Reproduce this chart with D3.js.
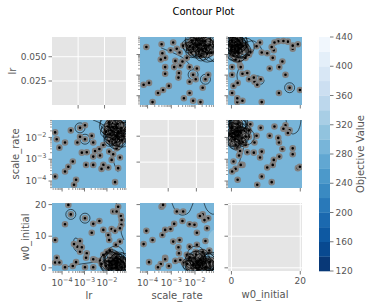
<!DOCTYPE html>
<html>
<head>
<meta charset="utf-8">
<script src="https://cdn.jsdelivr.net/npm/d3@7"></script>
<style>
  body { margin: 0; background: #fff; }
  svg { display: block; font-family: "DejaVu Sans", sans-serif; }
</style>
</head>
<body>
<script>
// Parameter names (row / column order of the matrix)
var paramNames = ["lr", "scale_rate", "w0_initial"];

// Trials spread over the search space
var spreadLr = [4.9e-5, 2.45e-4, 6.3e-4, 1.05e-3, 5.75e-5, 1.35e-4, 6.3e-4, 1.05e-3, 2.1e-3, 4.8e-4,
  2.45e-3, 7.6e-5, 1.26e-3, 2.95e-3, 4.6e-3, 6.9e-3, 4.9e-3, 2.45e-3, 3.0e-4, 1.17e-3,
  2.45e-3, 6.9e-3, 5.75e-3, 1.15e-2, 1.62e-2, 1.9e-2, 3.8e-2, 3.16e-2, 1.35e-4, 4.9e-5,
  4.2e-4, 3.4e-4, 2.3e-2, 1.26e-2, 2.7e-2, 4.2e-2, 4.5e-2, 4.4e-2, 3.8e-2, 2.5e-2,
  9.8e-3, 1.35e-2, 1.9e-4, 7.6e-4];
var spreadScaleRate = [1.7e-2, 2.1e-2, 2.75e-2, 3.6e-2, 8.3e-3, 5.9e-3, 1.07e-2, 8.3e-3, 1.2e-2, 5.9e-3,
  5.9e-3, 3.4e-3, 2.1e-3, 2.4e-3, 2.95e-3, 4.5e-3, 1.48e-3, 1.32e-3, 7.9e-4, 5.5e-4,
  5.5e-4, 5.5e-4, 3.6e-4, 4.2e-4, 9.3e-4, 1.7e-3, 1.2e-3, 3.9e-4, 2.75e-4, 1.62e-4,
  1.15e-4, 6.8e-5, 8.9e-5, 2.24e-3, 3.16e-3, 1.6e-2, 2.5e-2, 9.5e-3, 3.2e-2, 1.2e-2,
  2.1e-2, 4.0e-2, 4.5e-4, 2.0e-3];
var spreadW0 = [1.7, 16.9, 8.5, 15.7, 3.2, 13.8, 5.1, 0.2, 11.1, 6.7,
  0.2, 1.7, 4.6, 2.5, 14.8, 4.1, 2.2, 13.9, 0.6, 3.2,
  2.7, 12.0, 1.2, 10.4, 12.3, 17.8, 8.3, 19.3, 0.2, 8.8,
  1.8, 7.5, 11.7, 8.8, 17.8, 16.4, 15.1, 13.6, 12.5, 7.3,
  5.1, 5.5, 19.9, 6.5];

// Trials packed in the dense region (high lr, high scale_rate, low w0)
var clusterLr = [1.2e-2, 2.5e-2, 3.1e-2, 1.8e-2, 4.0e-2, 2.2e-2, 1.5e-2, 3.6e-2, 2.8e-2, 1.0e-2,
  4.5e-2, 2.0e-2, 3.3e-2, 1.3e-2, 2.6e-2, 5.0e-2, 1.7e-2, 3.9e-2, 2.3e-2, 1.1e-2,
  4.2e-2, 2.9e-2, 1.6e-2, 3.5e-2, 2.1e-2, 5.4e-2, 1.4e-2, 2.7e-2, 3.8e-2, 9.0e-3,
  4.8e-2, 2.4e-2, 1.9e-2, 3.2e-2, 6.0e-2, 1.2e-2, 2.6e-2, 4.4e-2, 1.8e-2, 3.0e-2];
var clusterScaleRate = [1.5e-2, 2.2e-2, 8.0e-3, 3.0e-2, 1.2e-2, 5.5e-3, 1.0e-2, 2.8e-2, 1.8e-2, 2.4e-2,
  4.0e-2, 1.3e-2, 1.0e-2, 7.0e-3, 3.5e-2, 2.0e-2, 4.5e-2, 6.5e-3, 1.6e-2, 3.3e-2,
  1.5e-2, 4.8e-3, 2.0e-2, 5.0e-2, 9.0e-3, 1.1e-2, 1.4e-2, 2.6e-2, 3.8e-2, 1.8e-2,
  7.5e-3, 1.1e-2, 2.9e-2, 1.7e-2, 2.3e-2, 4.9e-2, 6.0e-3, 2.7e-2, 8.5e-3, 4.2e-2];
var clusterW0 = [0.8, 1.5, 0.4, 2.2, 1.1, 0.6, 3.0, 0.9, 1.9, 0.3,
  1.3, 2.7, 0.2, 1.6, 0.7, 2.0, 1.0, 2.5, 0.1, 1.8,
  0.5, 1.2, 3.6, 2.3, 0.9, 1.7, 2.9, 0.3, 1.4, 0.6,
  0.8, 4.2, 1.1, 2.6, 0.4, 2.1, 3.3, 0.2, 1.0, 1.8];

// Spread trials circled by a contour line, per panel "row,col"
var ringedTrials = { "1,0": [2, 7], "2,0": [1, 3], "0,1": [7, 2], "0,2": [1] };

// Contour lines, in data units [x, y]
var contourLines = [
  { row: 0, col: 1, pts: [[3.7e-4, 2.1e-2], [1.15e-3, 1.23e-2], [3.0e-3, 7.1e-3], [5.75e-3, 3.4e-3], [9.3e-3, 1.9e-3]] },
  { row: 0, col: 1, pts: [[5.75e-3, 1.78e-2], [2.45e-2, 1.02e-2], [5.6e-2, 4.9e-3], [6.3e-2, 4.4e-3]] },
  { row: 1, col: 0, pts: [[2.4e-3, 6.3e-2], [4.9e-3, 4.6e-2], [9.1e-3, 3.0e-2], [1.38e-2, 1.78e-2]] },
  { row: 1, col: 0, pts: [[1.12e-2, 2.63e-3], [1.7e-2, 1.15e-3], [2.3e-2, 4.9e-4], [3.16e-2, 2.57e-4]] },
  { row: 0, col: 2, pts: [[0.74, 1.32e-2], [2.2, 5.4e-3], [2.2, 2.45e-3], [1.61, 1.02e-3], [1.9, 4.7e-4]] },
  { row: 0, col: 2, pts: [[3.94, 3.6e-2], [6.26, 4.6e-2], [8.0, 2.9e-2], [8.88, 1.66e-2]] },
  { row: 0, col: 2, closed: true, pts: [[5.97, 7.2e-4], [7.72, 9.1e-4], [9.47, 5.75e-4], [8.88, 3.7e-4], [7.14, 4.2e-4]] },
  { row: 2, col: 0, closed: true, pts: [[3.8e-4, 9.4], [5.75e-4, 8.8], [8.5e-4, 6.9], [6.9e-4, 5.0], [4.2e-4, 5.3], [3.1e-4, 7.2]] },
  { row: 2, col: 0, pts: [[2.57e-2, 20.5], [3.47e-2, 17.65], [4.8e-2, 14.5], [4.3e-2, 11.3], [5.75e-2, 8.8]] },
  { row: 2, col: 0, pts: [[1.0e-4, -0.05], [3.8e-4, 0.9], [1.45e-3, 1.53], [4.9e-3, 1.85], [1.12e-2, 1.2]] },
  { row: 2, col: 1, pts: [[1.07e-3, 20.5], [1.45e-3, 18.3], [2.57e-3, 16.7], [5.1e-3, 17.3], [7.4e-3, 19.5], [8.3e-3, 20.5]] },
  { row: 2, col: 1, pts: [[2.4e-2, 20.5], [3.2e-2, 18.3], [5.25e-2, 17.0], [6.3e-2, 17.0]] },
  { row: 1, col: 2, pts: [[1.9, 6.3e-2], [2.49, 2.2e-2], [3.65, 7.6e-3], [3.36, 2.63e-3], [2.49, 9.1e-4], [1.33, 2.57e-4]] },
  { row: 1, col: 2, pts: [[15.86, 6.3e-2], [16.44, 2.7e-2], [17.6, 1.45e-2], [19.06, 1.78e-2], [19.9, 3.3e-2], [20.2, 6.3e-2]] }
];

// Lighter filled contour regions (next level up), in data units
var lightRegions = [
  { row: 0, col: 1, pts: [[1.35e-2, 7.1e-2], [6.3e-2, 7.1e-2], [6.3e-2, 5.4e-3], [3.55e-2, 1.32e-2], [1.62e-2, 3.2e-2]] },
  { row: 2, col: 1, pts: [[3.9e-2, 10.4], [6.3e-2, 11.96], [6.3e-2, -1], [4.3e-2, -1], [3.55e-2, 4.06]] }
];

var baseLevel = 290;   // objective value of the main filled band
var lightLevel = 310;

// Colorbar levels and tick labels
var levels = [120, 140, 160, 180, 200, 220, 240, 260, 280, 300, 320, 340, 360, 380, 400, 420, 440];
var colorbarTicks = [120, 160, 200, 240, 280, 320, 360, 400, 440];

// Axis ranges
var axisDomains = [[3.55e-5, 7.08e-2], [4.79e-5, 6.31e-2], [-1.0, 20.5]];
var diagDomains = [[0.0003, 0.0703], [0, 0.0525], [-1.0, 20.5]];
var diagXTicks = [[0.025, 0.05], [0.02, 0.04], [0, 20]];
var diagYTicks = [[0.025, 0.05], [0.02, 0.04], [0, 10, 20]];
var w0XTicks = [0, 20];
var w0YTicks = [0, 10, 20];

// Layout
var svgWidth = 374, svgHeight = 308;
var colX = [52, 140, 228], rowY = [37, 120, 203];
var cellW = 74, cellH = 68;
var tickColor = "#555555";
var loopRadii = [4, 5.5, 7, 8.5];

var svg = d3.select("body").append("svg")
  .attr("width", svgWidth)
  .attr("height", svgHeight);

// matplotlib-like Blues colormap, reversed through bandColor
var bluesStops = ["#f7fbff", "#deebf7", "#c6dbef", "#9ecae1", "#6baed6", "#4292c6", "#2171b5", "#08519c", "#08306b"];
var blues = d3.scaleLinear()
  .domain(bluesStops.map(function (d, i) { return i / (bluesStops.length - 1); }))
  .range(bluesStops);
function bandColor(v) {
  var lo = levels[0], hi = levels[levels.length - 1];
  return blues(1 - (v - lo) / (hi - lo));
}

var trialValues = [
  spreadLr.concat(clusterLr),
  spreadScaleRate.concat(clusterScaleRate),
  spreadW0.concat(clusterW0)
];
var nSpread = spreadLr.length;
var nTrials = trialValues[0].length;

function axisScale(p, range, diag) {
  if (diag) return d3.scaleLinear().domain(diagDomains[p]).range(range);
  if (p < 2) return d3.scaleLog().domain(axisDomains[p]).range(range);
  return d3.scaleLinear().domain(axisDomains[p]).range(range);
}

function isDecade(t) {
  var l = Math.log10(t);
  return Math.abs(l - Math.round(l)) < 1e-6;
}

function tickSet(scale, p, isX, diag) {
  if (diag) return { major: isX ? diagXTicks[p] : diagYTicks[p], minor: [], log: false, fixed: p < 2 };
  if (p < 2) {
    var all = scale.ticks();
    return { major: all.filter(isDecade), minor: all.filter(function (t) { return !isDecade(t); }), log: true };
  }
  return { major: isX ? w0XTicks : w0YTicks, minor: [], log: false };
}

function writeLabel(text, t, ts) {
  if (ts.log) {
    var e = Math.round(Math.log10(t));
    text.append("tspan").text("10");
    text.append("tspan").attr("dy", -4).attr("font-size", 6.5).text("\u2212" + Math.abs(e));
  } else if (ts.fixed) {
    text.text(d3.format(".3f")(t));
  } else {
    text.text(t);
  }
}

function drawXTicks(g, scale, ts, showLabels) {
  ts.minor.forEach(function (t) {
    g.append("line").attr("x1", scale(t)).attr("x2", scale(t))
      .attr("y1", cellH).attr("y2", cellH + 2)
      .attr("stroke", tickColor).attr("stroke-width", 0.6);
  });
  ts.major.forEach(function (t) {
    g.append("line").attr("x1", scale(t)).attr("x2", scale(t))
      .attr("y1", cellH).attr("y2", cellH + 3.5)
      .attr("stroke", tickColor).attr("stroke-width", 0.8);
    if (showLabels) {
      var text = g.append("text")
        .attr("x", scale(t)).attr("y", cellH + (ts.log ? 14.5 : 13))
        .attr("text-anchor", "middle").attr("font-size", 9).attr("fill", tickColor);
      writeLabel(text, t, ts);
    }
  });
}

function drawYTicks(g, scale, ts, showLabels) {
  ts.minor.forEach(function (t) {
    g.append("line").attr("y1", scale(t)).attr("y2", scale(t))
      .attr("x1", 0).attr("x2", -2)
      .attr("stroke", tickColor).attr("stroke-width", 0.6);
  });
  ts.major.forEach(function (t) {
    g.append("line").attr("y1", scale(t)).attr("y2", scale(t))
      .attr("x1", 0).attr("x2", -3.5)
      .attr("stroke", tickColor).attr("stroke-width", 0.8);
    if (showLabels) {
      var text = g.append("text")
        .attr("x", -5.5).attr("y", scale(t) + 3.2)
        .attr("text-anchor", "end").attr("font-size", 9).attr("fill", tickColor);
      writeLabel(text, t, ts);
    }
  });
}

var lineGen = d3.line().curve(d3.curveCatmullRom);
var loopGen = d3.line().curve(d3.curveCatmullRomClosed);

for (var r = 0; r < 3; r++) {
  for (var c = 0; c < 3; c++) {
    var diag = r === c;
    var g = svg.append("g").attr("transform", "translate(" + colX[c] + "," + rowY[r] + ")");
    var x = axisScale(c, [0, cellW], diag);
    var y = axisScale(r, [cellH, 0], diag);
    var xt = tickSet(x, c, true, diag);
    var yt = tickSet(y, r, false, diag);

    if (diag) {
      g.append("rect").attr("width", cellW).attr("height", cellH).attr("fill", "#e5e5e5");
      xt.major.forEach(function (t) {
        g.append("line").attr("x1", x(t)).attr("x2", x(t)).attr("y1", 0).attr("y2", cellH)
          .attr("stroke", "#fff").attr("stroke-width", 1);
      });
      yt.major.forEach(function (t) {
        g.append("line").attr("y1", y(t)).attr("y2", y(t)).attr("x1", 0).attr("x2", cellW)
          .attr("stroke", "#fff").attr("stroke-width", 1);
      });
    } else {
      var clipId = "clip" + r + c;
      g.append("clipPath").attr("id", clipId)
        .append("rect").attr("width", cellW).attr("height", cellH);
      var inner = g.append("g").attr("clip-path", "url(#" + clipId + ")");

      inner.append("rect").attr("width", cellW).attr("height", cellH).attr("fill", bandColor(baseLevel));

      lightRegions.filter(function (d) { return d.row === r && d.col === c; }).forEach(function (d) {
        inner.append("path")
          .attr("d", loopGen(d.pts.map(function (p) { return [x(p[0]), y(p[1])]; })))
          .attr("fill", bandColor(lightLevel));
      });

      contourLines.filter(function (d) { return d.row === r && d.col === c; }).forEach(function (d) {
        var gen = d.closed ? loopGen : lineGen;
        inner.append("path")
          .attr("d", gen(d.pts.map(function (p) { return [x(p[0]), y(p[1])]; })))
          .attr("fill", "none").attr("stroke", "#000").attr("stroke-width", 0.6);
      });

      (ringedTrials[r + "," + c] || []).forEach(function (i) {
        inner.append("circle")
          .attr("cx", x(trialValues[c][i])).attr("cy", y(trialValues[r][i]))
          .attr("r", 5).attr("fill", "none").attr("stroke", "#000").attr("stroke-width", 0.6);
      });

      for (var k = 0; k < nTrials; k++) {
        inner.append("circle")
          .attr("cx", x(trialValues[c][k])).attr("cy", y(trialValues[r][k]))
          .attr("r", 2.3).attr("fill", "#000")
          .attr("stroke", "#808080").attr("stroke-width", 2);
      }

      // tangled contour loops around the clustered trials
      for (var i = nSpread; i < nTrials; i++) {
        inner.append("circle")
          .attr("cx", x(trialValues[c][i])).attr("cy", y(trialValues[r][i]))
          .attr("r", loopRadii[i % loopRadii.length])
          .attr("fill", "none").attr("stroke", "#000").attr("stroke-width", 0.55);
      }
    }

    drawXTicks(g, x, xt, r === 2);
    drawYTicks(g, y, yt, c === 0);
  }
}

// Axis titles
var yLabelX = [15.5, 19, 29];
paramNames.forEach(function (name, i) {
  svg.append("text")
    .attr("x", colX[i] + cellW / 2).attr("y", i < 2 ? 299 : 297.5)
    .attr("text-anchor", "middle").attr("font-size", 10).attr("fill", tickColor)
    .text(name);
  svg.append("text")
    .attr("transform", "translate(" + yLabelX[i] + "," + (rowY[i] + cellH / 2) + ") rotate(-90)")
    .attr("text-anchor", "middle").attr("font-size", 10).attr("fill", tickColor)
    .text(name);
});

// Title
svg.append("text")
  .attr("x", 203.5).attr("y", 15)
  .attr("text-anchor", "middle").attr("font-size", 10).attr("fill", "#000")
  .text("Contour Plot");

// Colorbar
var cbX = 319, cbW = 11;
var cbScale = d3.scaleLinear()
  .domain([levels[0], levels[levels.length - 1]])
  .range([rowY[2] + cellH, rowY[0]]);
var cb = svg.append("g");
levels.slice(0, -1).forEach(function (lv, i) {
  var top = cbScale(levels[i + 1]), bottom = cbScale(lv);
  cb.append("rect")
    .attr("x", cbX).attr("y", top)
    .attr("width", cbW).attr("height", bottom - top + 0.3)
    .attr("fill", bandColor((lv + levels[i + 1]) / 2));
});
colorbarTicks.forEach(function (t) {
  cb.append("line")
    .attr("x1", cbX + cbW).attr("x2", cbX + cbW + 3.5)
    .attr("y1", cbScale(t)).attr("y2", cbScale(t))
    .attr("stroke", tickColor).attr("stroke-width", 0.8);
  cb.append("text")
    .attr("x", cbX + cbW + 5.5).attr("y", cbScale(t) + 3.2)
    .attr("font-size", 9).attr("fill", tickColor)
    .text(t);
});
svg.append("text")
  .attr("transform", "translate(364," + (rowY[1] + cellH / 2) + ") rotate(-90)")
  .attr("text-anchor", "middle").attr("font-size", 10).attr("fill", tickColor)
  .text("Objective Value");
</script>
</body>
</html>
